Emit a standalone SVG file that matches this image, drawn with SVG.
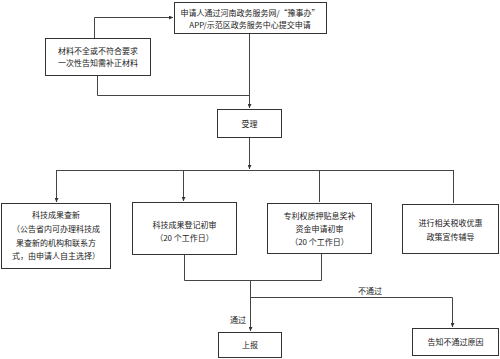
<svg xmlns="http://www.w3.org/2000/svg" width="500" height="359" viewBox="0 0 500 359">
<defs>
<marker id="ah" viewBox="0 0 6 6" refX="6" refY="3" markerWidth="4" markerHeight="4" markerUnits="userSpaceOnUse" orient="auto">
<path d="M0,0 L6,3 L0,6 z" fill="#333"/>
</marker>
<style>
.box{fill:#fff;stroke:#333;stroke-width:1}
.t{font-family:"Noto Sans CJK SC","Liberation Sans",sans-serif;font-size:8px;fill:#222;text-anchor:middle}
.c{fill:none;stroke:#444;stroke-width:1}
</style>
</defs>
<rect width="500" height="359" fill="#fff"/>
<g id="connectors">
<path class="c" d="M94.5,38 V17.5 H173" marker-end="url(#ah)"/>
<path class="c" d="M97.5,75 V95.5 H249.5"/>
<path class="c" d="M249.5,33 V108" marker-end="url(#ah)"/>
<path class="c" d="M249.5,138 V169" marker-end="url(#ah)"/>
<path class="c" d="M56.5,170.5 H453.5"/>
<path class="c" d="M56.5,170 V202" marker-end="url(#ah)"/>
<path class="c" d="M183.5,170 V201" marker-end="url(#ah)"/>
<path class="c" d="M319.5,170 V202"/>
<path class="c" d="M453.5,170 V203"/>
<path class="c" d="M184.5,254 V280.5 H321.5 V253"/>
<path class="c" d="M250.5,280 V331" marker-end="url(#ah)"/>
<path class="c" d="M250.5,297.5 H452.5 V327" marker-end="url(#ah)"/>
<text class="t" x="370" y="294">不通过</text>
<text class="t" x="238" y="323">通过</text>
</g>
<g id="n-start">
<rect class="box" x="174.5" y="2.5" width="152" height="31"/>
<text class="t" x="250" y="16">申请人通过河南政务服务网/“豫事办”</text>
<text class="t" x="250" y="28">APP/示范区政务服务中心提交申请</text>
</g>
<g id="n-supplement">
<rect class="box" x="45.5" y="38.5" width="105" height="37"/>
<text class="t" x="98" y="54">材料不全或不符合要求</text>
<text class="t" x="98" y="66">一次性告知需补正材料</text>
</g>
<g id="n-accept">
<rect class="box" x="217.5" y="109.5" width="64" height="28"/>
<text class="t" x="249.5" y="126.5">受理</text>
</g>
<g id="n-search">
<rect class="box" x="1.5" y="203.5" width="109" height="65"/>
<text class="t" x="56" y="218">科技成果查新</text>
<text class="t" x="56" y="232">（公告省内可办理科技成</text>
<text class="t" x="56" y="246">果查新的机构和联系方</text>
<text class="t" x="56" y="259">式，由申请人自主选择）</text>
</g>
<g id="n-register">
<rect class="box" x="132.5" y="202.5" width="104" height="52"/>
<text class="t" x="184.5" y="228">科技成果登记初审</text>
<text class="t" x="184.5" y="241">（20 个工作日）</text>
</g>
<g id="n-patent">
<rect class="box" x="267.5" y="203.5" width="104" height="50"/>
<text class="t" x="319.5" y="219">专利权质押贴息奖补</text>
<text class="t" x="319.5" y="232">资金申请初审</text>
<text class="t" x="319.5" y="245">（20 个工作日）</text>
</g>
<g id="n-tax">
<rect class="box" x="402.5" y="204.5" width="96" height="49"/>
<text class="t" x="450.5" y="226">进行相关税收优惠</text>
<text class="t" x="450.5" y="240">政策宣传辅导</text>
</g>
<g id="n-report">
<rect class="box" x="218.5" y="332.5" width="63" height="25"/>
<text class="t" x="250" y="348">上报</text>
</g>
<g id="n-reject">
<rect class="box" x="412.5" y="328.5" width="86" height="27"/>
<text class="t" x="455.5" y="345">告知不通过原因</text>
</g>
</svg>
